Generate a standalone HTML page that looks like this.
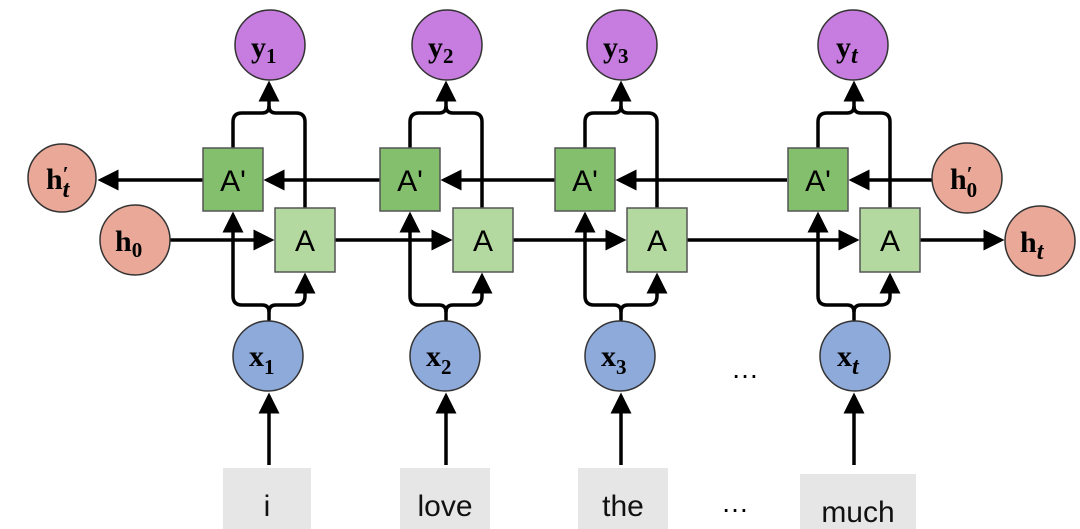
<!DOCTYPE html>
<html><head><meta charset="utf-8"><style>
html,body{margin:0;padding:0;background:#fff;width:1080px;height:529px;overflow:hidden}
.m{font-family:"Liberation Serif",serif;font-weight:bold;font-size:30px}
.s{font-family:"Liberation Serif",serif;font-size:21px}
.si{font-family:"Liberation Serif",serif;font-style:italic;font-size:24px}
.b{font-family:"Liberation Sans",sans-serif;font-size:28px}
.w{font-family:"Liberation Sans",sans-serif;font-size:30px}
</style></head><body>
<svg width="1080" height="529" viewBox="0 0 1080 529" xmlns="http://www.w3.org/2000/svg">
<defs>
<marker id="ar" markerWidth="6" markerHeight="6" refX="5" refY="3" orient="auto" markerUnits="strokeWidth">
<path d="M0,0 L6,3 L0,6 z" fill="#000"/></marker>
</defs>
<g stroke="#000" stroke-width="3.5" fill="none">
<!-- backward line y=180 -->
<line x1="932" y1="180" x2="852" y2="180" marker-end="url(#ar)"/>
<line x1="787" y1="180" x2="619" y2="180" marker-end="url(#ar)"/>
<line x1="555" y1="180" x2="444" y2="180" marker-end="url(#ar)"/>
<line x1="380" y1="180" x2="267" y2="180" marker-end="url(#ar)"/>
<line x1="203" y1="180" x2="101" y2="180" marker-end="url(#ar)"/>
<!-- forward line y=240 -->
<line x1="170" y1="240" x2="271" y2="240" marker-end="url(#ar)"/>
<line x1="335" y1="240" x2="449" y2="240" marker-end="url(#ar)"/>
<line x1="513" y1="240" x2="623" y2="240" marker-end="url(#ar)"/>
<line x1="687" y1="240" x2="856" y2="240" marker-end="url(#ar)"/>
<line x1="920" y1="240" x2="1001" y2="240" marker-end="url(#ar)"/>
<!-- columns -->
<g id="c1">
<path d="M233,148 V122 Q233,113 242,113 H262 Q269,113 269,106 V84" marker-end="url(#ar)"/>
<path d="M305,208 V122 Q305,113 296,113 H276 Q269,113 269,106"/>
<path d="M269,322 V312 Q269,305 262,305 H242 Q233,305 233,296 V215" marker-end="url(#ar)"/>
<path d="M269,312 Q269,305 276,305 H296 Q305,305 305,296 V276" marker-end="url(#ar)"/>
<line x1="269" y1="465" x2="269" y2="396" marker-end="url(#ar)"/>
</g>
<use href="#c1" x="177"/>
<use href="#c1" x="352"/>
<use href="#c1" x="585"/>
</g>
<g stroke="#555" stroke-width="1.5">
<rect x="203" y="148" width="60" height="63" fill="#83bf6c"/>
<rect x="275" y="208" width="60" height="64" fill="#b4d9a0"/>
<rect x="380" y="148" width="60" height="63" fill="#83bf6c"/>
<rect x="453" y="208" width="60" height="64" fill="#b4d9a0"/>
<rect x="555" y="148" width="60" height="63" fill="#83bf6c"/>
<rect x="627" y="208" width="60" height="64" fill="#b4d9a0"/>
<rect x="788" y="148" width="60" height="63" fill="#83bf6c"/>
<rect x="860" y="208" width="60" height="64" fill="#b4d9a0"/>
</g>
<g class="w" text-anchor="middle">
<text x="233" y="191">A'</text><text x="305" y="251">A</text>
<text x="410" y="191">A'</text><text x="483" y="251">A</text>
<text x="585" y="191">A'</text><text x="657" y="251">A</text>
<text x="818" y="191">A'</text><text x="890" y="251">A</text>
</g>
<g stroke="#333" stroke-width="1.5">
<circle cx="270" cy="45" r="35" fill="#c77ddf"/>
<circle cx="447" cy="45" r="35" fill="#c77ddf"/>
<circle cx="622" cy="45" r="35" fill="#c77ddf"/>
<circle cx="853" cy="45" r="35" fill="#c77ddf"/>
<circle cx="268" cy="356" r="35" fill="#8eaadb"/>
<circle cx="445" cy="356" r="35" fill="#8eaadb"/>
<circle cx="620" cy="356" r="35" fill="#8eaadb"/>
<circle cx="855" cy="356" r="35" fill="#8eaadb"/>
<circle cx="62" cy="178" r="34" fill="#eaa898"/>
<circle cx="135" cy="240" r="35" fill="#eaa898"/>
<circle cx="967" cy="178" r="35" fill="#eaa898"/>
<circle cx="1040" cy="241" r="35" fill="#eaa898"/>
</g>
<g class="m">
<text x="251" y="57">y<tspan class="s" dy="6">1</tspan></text>
<text x="428" y="57">y<tspan class="s" dy="6">2</tspan></text>
<text x="603" y="57">y<tspan class="s" dy="6">3</tspan></text>
<text x="836" y="57">y<tspan class="si" dy="6">t</tspan></text>
<text x="249" y="366">x<tspan class="s" dy="8">1</tspan></text>
<text x="426" y="366">x<tspan class="s" dy="8">2</tspan></text>
<text x="601" y="366">x<tspan class="s" dy="8">3</tspan></text>
<text x="837" y="366">x<tspan class="si" dy="8">t</tspan></text>
<text x="115" y="251">h<tspan class="s" dy="6">0</tspan></text>
<text x="1020" y="252">h<tspan class="si" dy="7">t</tspan></text>
<text x="46" y="189">h<tspan class="s" dy="-8">′</tspan><tspan class="si" dx="-6" dy="16">t</tspan></text>
<text x="950" y="189">h<tspan class="s" dy="-8">′</tspan><tspan class="s" dx="-6" dy="16">0</tspan></text>
</g>
<text x="745" y="378" class="b" text-anchor="middle">…</text>
<text x="735" y="512" class="b" text-anchor="middle">…</text>
<g fill="#e6e6e6">
<rect x="223" y="468" width="88" height="61"/>
<rect x="400" y="468" width="90" height="61"/>
<rect x="578" y="468" width="90" height="61"/>
<rect x="800" y="474" width="116" height="55"/>
</g>
<g class="w" text-anchor="middle" fill="#111">
<text x="267" y="516">i</text>
<text x="445" y="516">love</text>
<text x="623" y="516">the</text>
<text x="858" y="522">much</text>
</g>
</svg>
</body></html>
